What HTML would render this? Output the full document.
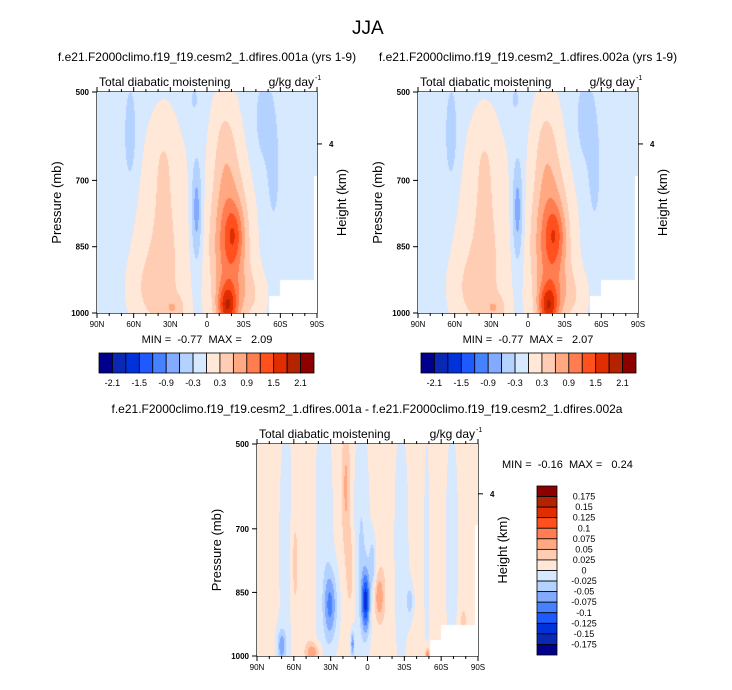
<!DOCTYPE html>
<html><head><meta charset="utf-8">
<style>
body{margin:0;background:#fff;width:732px;height:690px;position:relative;overflow:hidden;font-family:"Liberation Sans",sans-serif;color:#000}
.t{position:absolute;white-space:nowrap}
canvas{position:absolute}
svg text{white-space:pre}
</style></head><body>
<div class="t" style="left:352px;top:18px;font-size:19px">JJA</div>
<svg id="svg" width="732" height="690" style="position:absolute;left:0;top:0"></svg>
<script>
const palette=['#00008c','#0a28b4','#0032dc','#1e5aff','#4682ff','#82aaff','#b4d2ff','#d7e9ff','#ffe8d7','#ffcdb4','#ffa882','#ff7d50','#ff501e','#e12d00','#b42300','#8c0000'];
const topLevels=[-2.1,-1.8,-1.5,-1.2,-0.9,-0.6,-0.3,0,0.3,0.6,0.9,1.2,1.5,1.8,2.1];
const topLevelLabels=['-2.1','-1.5','-0.9','-0.3','0.3','0.9','1.5','2.1'];
const diffLevels=[-0.175,-0.15,-0.125,-0.1,-0.075,-0.05,-0.025,0,0.025,0.05,0.075,0.1,0.125,0.15,0.175];
const diffLevelLabels=['-0.175','-0.15','-0.125','-0.1','-0.075','-0.05','-0.025','0','0.025','0.05','0.075','0.1','0.125','0.15','0.175'];
const latTicks=['90N','60N','30N','0','30S','60S','90S'];
const presTicks=[500,700,850,1000];
// blobs: [x fraction (90N->90S), pressure center, x width, p width, amplitude]
const blobsA=[[0.15,600,0.035,140,-0.35],[0.76,560,0.05,110,-0.35],[0.8,690,0.03,120,-0.3],[0.45,770,0.025,120,-0.75],[0.44,515,0.02,30,-0.3],
[0.3,830,0.12,220,0.45],[0.3,640,0.05,100,0.2],[0.25,950,0.1,80,0.3],[0.58,620,0.06,130,0.4],[0.60,850,0.085,170,1.2],[0.62,820,0.04,60,0.5],[0.59,985,0.045,50,1.3],[0.35,990,0.05,30,0.4],[0.7,960,0.07,60,0.3]];
const blobsB=[[0.58,620,0.06,130,0.4],[0.60,850,0.085,170,1.2],[0.62,820,0.04,60,0.48],[0.59,985,0.045,50,1.28]];
const baseA=-0.1;
const blobsDiff=[[0.03,750,0.04,400,0.012],[0.13,750,0.05,400,-0.01],[0.11,975,0.02,40,-0.07],[0.17,780,0.015,120,0.035],[0.23,750,0.03,400,0.015],[0.27,750,0.015,400,-0.01],
[0.33,880,0.03,80,-0.08],[0.31,750,0.03,300,-0.02],[0.40,600,0.02,150,0.05],[0.42,800,0.02,100,0.03],[0.47,760,0.03,250,-0.035],[0.49,870,0.018,70,-0.13],[0.52,780,0.015,60,-0.05],
[0.55,860,0.02,50,0.06],[0.57,800,0.03,250,0.015],[0.65,750,0.05,400,-0.01],[0.69,870,0.02,40,-0.04],[0.72,750,0.02,400,0.012],[0.77,750,0.025,400,-0.01],[0.8,700,0.02,400,0.012],
[0.88,750,0.04,400,-0.01],[0.96,750,0.02,400,0.012],[0.93,930,0.015,50,0.035],[0.25,990,0.03,20,0.06],[0.77,995,0.01,15,0.08],[0.43,970,0.008,30,-0.08]];
function field(blobs,base,x,p){let v=base;for(const b of blobs){const dx=(x-b[0])/b[2],dp=(p-b[1])/b[3];v+=b[4]*Math.exp(-dx*dx-dp*dp);}return v;}
function color(v,levels){let i=0;while(i<levels.length&&v>=levels[i])i++;return palette[i];}
function missing(x,p){return (x>0.78&&p>960)||(x>0.83&&p>925)||(x>0.985&&p>690);}
const svg=document.getElementById('svg');
const NS='http://www.w3.org/2000/svg';
function el(tag,attrs,txt){const e=document.createElementNS(NS,tag);for(const k in attrs)e.setAttribute(k,attrs[k]);if(txt!==undefined)e.textContent=txt;svg.appendChild(e);return e;}
function panel(name,L,T,W,H,blobs,base,levels){
  const cv=document.createElement('canvas');cv.width=W;cv.height=H;cv.style.left=L+'px';cv.style.top=T+'px';
  
  
  document.body.appendChild(cv);
  const ctx=cv.getContext('2d');
  for(let j=0;j<H;j++)for(let i=0;i<W;i++){const x=i/W,p=500+500*j/H;
    if(missing(x,p)){ctx.fillStyle='#fff';}else ctx.fillStyle=color(field(blobs,base,x,p),levels);
    ctx.fillRect(i,j,1,1);}
  const fr=el('rect',{x:L,y:T,width:W,height:H,fill:'none',stroke:'#000','stroke-width':1.2});
  
  
  for(let k=0;k<=18;k++){const x=L+W*k/18,len=k%3==0?5:3;
    el('line',{x1:x,y1:T+H,x2:x,y2:T+H+len,stroke:'#000'});el('line',{x1:x,y1:T,x2:x,y2:T-len,stroke:'#000'});}
  latTicks.forEach((t,k)=>{const tx=el('text',{x:L+W*k/6,y:T+H+14,'font-size':8,'text-anchor':'middle'},t);
    
    });
  presTicks.forEach(pv=>{const y=T+H*(pv-500)/500;el('line',{x1:L,y1:y,x2:L-5,y2:y,stroke:'#000'});
    const tx=el('text',{x:L-8,y:y+3,'font-size':8,'text-anchor':'end','font-weight':'bold'},pv);
    
    });
  const y4=T+H*0.235;el('line',{x1:L+W,y1:y4,x2:L+W+5,y2:y4,stroke:'#000'});
  el('text',{x:L+W+12,y:y4+3,'font-size':8,'font-weight':'bold'},'4');
  const yl=el('text',{x:L-36,y:T+H/2,'font-size':13,'text-anchor':'middle',transform:`rotate(-90 ${L-36} ${T+H/2})`},'Pressure (mb)');
  
  
  const yr=el('text',{x:L+W+29,y:T+H/2,'font-size':13,'text-anchor':'middle',transform:`rotate(-90 ${L+W+29} ${T+H/2})`},'Height (km)');
  
  
  const lt=el('text',{x:L+2,y:T-6,'font-size':12},'Total diabatic moistening');
  
  
  const ut=el('text',{x:L+W-3,y:T-6,'font-size':12,'text-anchor':'end'},'g/kg day');
  
  
  el('text',{x:L+W-2,y:T-12,'font-size':7},'-1');
}
function hbar(name,L,T,W,H){const bw=W/palette.length;
  palette.forEach((c,i)=>{const r=el('rect',{x:L+i*bw,y:T,width:bw,height:H,fill:c,stroke:'#000','stroke-width':0.8});
    
    });
  topLevelLabels.forEach((t,k)=>{el('text',{x:L+bw*(1+2*k),y:T+H+13,'font-size':9,'text-anchor':'middle'},t);});
}
panel('top-left-panel',97,92,220,221,blobsA,baseA,topLevels);
panel('top-right-panel',418,92,220,221,blobsA.filter(b=>!blobsB.some(c=>c[0]==b[0]&&c[1]==b[1])).concat(blobsB),baseA,topLevels);
panel('diff-panel',257,444,221,212,blobsDiff,0.006,diffLevels);
hbar('left-colorbar',99,353,215,20);
hbar('right-colorbar',421,353,215,20);
{const L=537,T=486,W=20,H=169,bh=H/palette.length;
  palette.slice().reverse().forEach((c,i)=>{const r=el('rect',{x:L,y:T+i*bh,width:W,height:bh,fill:c,stroke:'#000','stroke-width':0.8});
    
    });
  diffLevelLabels.slice().reverse().forEach((t,k)=>{el('text',{x:L+W+27,y:T+bh*(k+1)+3,'font-size':9,'text-anchor':'middle'},t);});
}
function txt(name,x,y,s,t,anchor){const e=el('text',{x:x,y:y,'font-size':s,'text-anchor':anchor||'start'},t);
  
  }
txt('left-subtitle',207,61,12,'f.e21.F2000climo.f19_f19.cesm2_1.dfires.001a (yrs 1-9)','middle');
txt('right-subtitle',528,61,12,'f.e21.F2000climo.f19_f19.cesm2_1.dfires.002a (yrs 1-9)','middle');
txt('diff-subtitle',367,413,12,'f.e21.F2000climo.f19_f19.cesm2_1.dfires.001a - f.e21.F2000climo.f19_f19.cesm2_1.dfires.002a','middle');
txt('left-minmax',207,343,11,'MIN =  -0.77  MAX =   2.09','middle');
txt('right-minmax',528,343,11,'MIN =  -0.77  MAX =   2.07','middle');
txt('diff-minmax',502,468,11,'MIN =  -0.16  MAX =   0.24');
</script>
</body></html>
